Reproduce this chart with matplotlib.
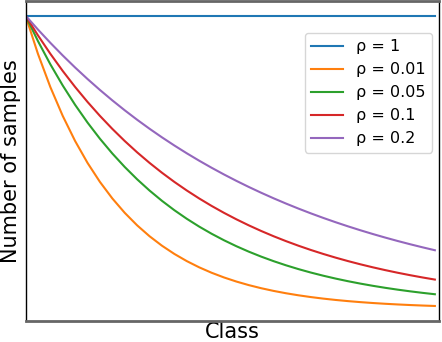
import matplotlib
matplotlib.use("Agg")
import matplotlib.pyplot as plt

classes = [0, 3, 6, 9, 12, 15, 18, 21, 24, 27, 30, 33, 36, 39, 42, 45, 48,
           51, 54, 57, 60, 63, 66, 69, 72, 75, 78, 81, 84, 87, 90, 93, 96, 99]
labels = ["ρ = 1", "ρ = 0.01", "ρ = 0.05", "ρ = 0.1", "ρ = 0.2"]
rho_1 = [1.0] * 34
rho_001 = [1.0, 0.86975, 0.75646, 0.65793, 0.57223, 0.49770, 0.43288, 0.37649, 0.32745,
           0.28480, 0.24770, 0.21544, 0.18738, 0.16298, 0.14175, 0.12328, 0.10723,
           0.09326, 0.08111, 0.07055, 0.06136, 0.05337, 0.04642, 0.04037, 0.03511,
           0.03054, 0.02656, 0.02310, 0.02009, 0.01748, 0.01520, 0.01322, 0.01150, 0.01000]
rho_005 = [1.0, 0.91322, 0.83397, 0.76160, 0.69551, 0.63515, 0.58004, 0.52970, 0.48373,
           0.44175, 0.40342, 0.36841, 0.33645, 0.30725, 0.28058, 0.25623, 0.23400,
           0.21369, 0.19514, 0.17821, 0.16275, 0.14863, 0.13572, 0.12394, 0.11320,
           0.10338, 0.09440, 0.08621, 0.07873, 0.07189, 0.06565, 0.05996, 0.05476, 0.05000]
rho_01 = [1.0, 0.93260, 0.86975, 0.81113, 0.75646, 0.70548, 0.65793, 0.61359, 0.57223,
          0.53367, 0.49770, 0.46416, 0.43288, 0.40371, 0.37649, 0.35111, 0.32745,
          0.30539, 0.28480, 0.26561, 0.24770, 0.23102, 0.21544, 0.20092, 0.18738,
          0.17476, 0.16298, 0.15199, 0.14175, 0.13221, 0.12328, 0.11498, 0.10723, 0.10000]
rho_02 = [1.0, 0.95240, 0.90706, 0.86390, 0.82277, 0.78361, 0.74631, 0.71078, 0.67695,
          0.64472, 0.61404, 0.58480, 0.55698, 0.53046, 0.50522, 0.48117, 0.45826,
          0.43645, 0.41568, 0.39588, 0.37703, 0.35909, 0.34199, 0.32571, 0.31022,
          0.29545, 0.28139, 0.26801, 0.25525, 0.24310, 0.23152, 0.22050, 0.21000, 0.20000]
series = [rho_1, rho_001, rho_005, rho_01, rho_02]
colors = ["#1f77b4", "#ff7f0e", "#2ca02c", "#d62728", "#9467bd"]

fig = plt.figure(figsize=(4.42, 3.42), dpi=100)
ax = fig.add_axes([25.5 / 442, 1 - 320.5 / 342, (439 - 25.5) / 442, 319.5 / 342])
for ys, lab, c in zip(series, labels, colors):
    ax.plot(classes, ys, color=c, label=lab, lw=1.5)
ax.set_xlim(0, 100)
ax.set_xticks([])
ax.set_yticks([])
ax.set_xlabel("Class", fontsize=15, labelpad=1)
ax.set_ylabel("Number of samples", fontsize=15, labelpad=3)
for s in ["top", "bottom"]:
    ax.spines[s].set_color("#666666")
    ax.spines[s].set_linewidth(2)
for s in ["left", "right"]:
    ax.spines[s].set_color("black")
    ax.spines[s].set_linewidth(1)
ax.legend(loc="upper right", bbox_to_anchor=(0.983, 0.900), borderaxespad=0, fontsize=11.5)
fig.savefig("out.png", dpi=100)
